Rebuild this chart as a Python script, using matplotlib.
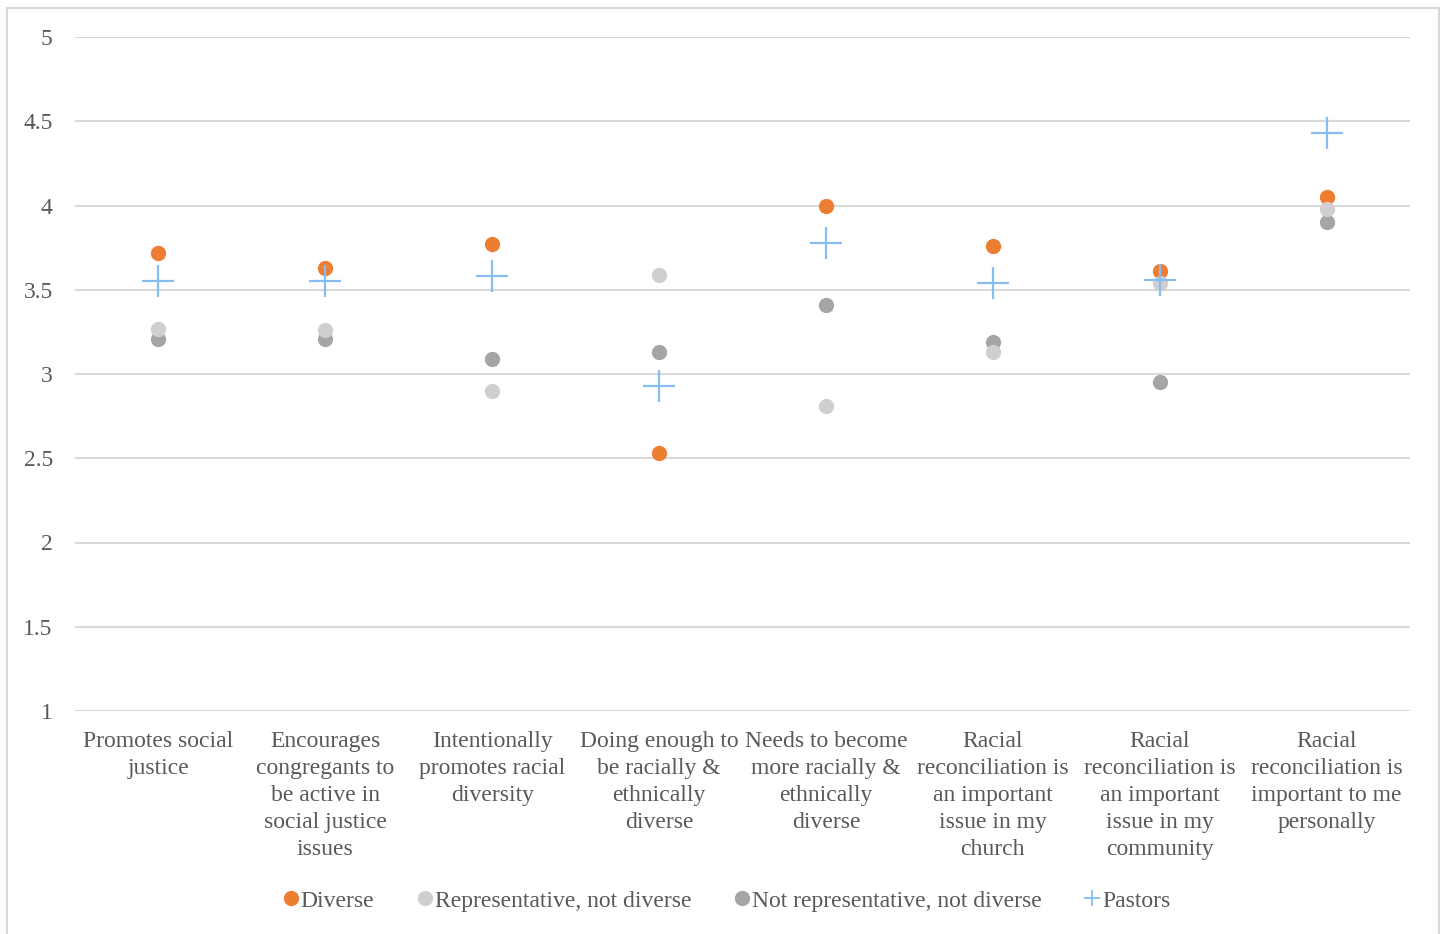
import matplotlib
matplotlib.use("Agg")
import matplotlib.pyplot as plt
from matplotlib.patches import Rectangle
from matplotlib.lines import Line2D

categories = [
    "Promotes social\njustice",
    "Encourages\ncongregants to\nbe active in\nsocial justice\nissues",
    "Intentionally\npromotes racial\ndiversity",
    "Doing enough to\nbe racially &\nethnically\ndiverse",
    "Needs to become\nmore racially &\nethnically\ndiverse",
    "Racial\nreconciliation is\nan important\nissue in my\nchurch",
    "Racial\nreconciliation is\nan important\nissue in my\ncommunity",
    "Racial\nreconciliation is\nimportant to me\npersonally",
]

diverse = [3.72, 3.63, 3.77, 2.53, 4.00, 3.76, 3.61, 4.05]
representative = [3.27, 3.26, 2.90, 3.59, 2.81, 3.13, 3.54, 3.98]
not_representative = [3.21, 3.21, 3.09, 3.13, 3.41, 3.19, 2.95, 3.90]
pastors = [3.55, 3.55, 3.58, 2.93, 3.78, 3.54, 3.56, 4.43]

series_names = ["Diverse", "Representative, not diverse",
                "Not representative, not diverse", "Pastors"]
yticks = [1, 1.5, 2, 2.5, 3, 3.5, 4, 4.5, 5]
ytick_labels = ["1", "1.5", "2", "2.5", "3", "3.5", "4", "4.5", "5"]

C_DIV = "#ED7D31"
C_REP = "#D0CECE"
C_NOT = "#A5A5A5"
C_PAS = "#86BDF2"
TXT = "#595959"
GRID = "#D9D9D9"
FS = 17

plt.rcParams["font.family"] = ["Liberation Serif", "DejaVu Serif"]

fig = plt.figure(figsize=(14.43, 9.34), dpi=100)
W, H = 1443, 934
ax = fig.add_axes([75 / W, 1 - 711 / H, (1410 - 75) / W, (711 - 37) / H])

x = list(range(len(categories)))
ax.plot(x, not_representative, "o", color=C_NOT, ms=11, mew=0, zorder=3)
ax.plot(x, representative, "o", color=C_REP, ms=11, mew=0, zorder=4)
ax.plot(x, diverse, "o", color=C_DIV, ms=11, mew=0, zorder=2)
ax.plot(x, pastors, "+", color=C_PAS, ms=23, mew=1.6, zorder=5)

ax.set_xlim(-0.5, len(categories) - 0.5)
ax.set_ylim(1, 5)
ax.set_yticks(yticks)
ax.set_yticklabels(ytick_labels)
ax.set_xticks(x)
ax.set_xticklabels(categories, linespacing=1.38)
ax.tick_params(axis="both", length=0, labelsize=FS, labelcolor=TXT)
ax.tick_params(axis="y", pad=16)
ax.tick_params(axis="x", pad=14.5)
for s in ax.spines.values():
    s.set_visible(False)
ax.grid(axis="y", color=GRID, lw=1.5)
ax.set_axisbelow(True)

handles = [
    Line2D([], [], marker="o", ls="", color=C_DIV, ms=11, mew=0),
    Line2D([], [], marker="o", ls="", color=C_REP, ms=11, mew=0),
    Line2D([], [], marker="o", ls="", color=C_NOT, ms=11, mew=0),
    Line2D([], [], marker="+", ls="", color=C_PAS, ms=12, mew=1.3),
]
leg = fig.legend(handles, series_names, loc="center", ncol=4,
                 bbox_to_anchor=(727 / W, 1 - 901 / H), frameon=False,
                 fontsize=FS, handlelength=0.6, handletextpad=0.12,
                 columnspacing=1.85, labelcolor=TXT)

fig.patches.append(Rectangle((7 / W, -0.01), (1439 - 7) / W, 1.01 - 8 / H,
                             transform=fig.transFigure, fill=False,
                             edgecolor=GRID, lw=1.5))

fig.savefig("out.png", dpi=100, facecolor="white")
